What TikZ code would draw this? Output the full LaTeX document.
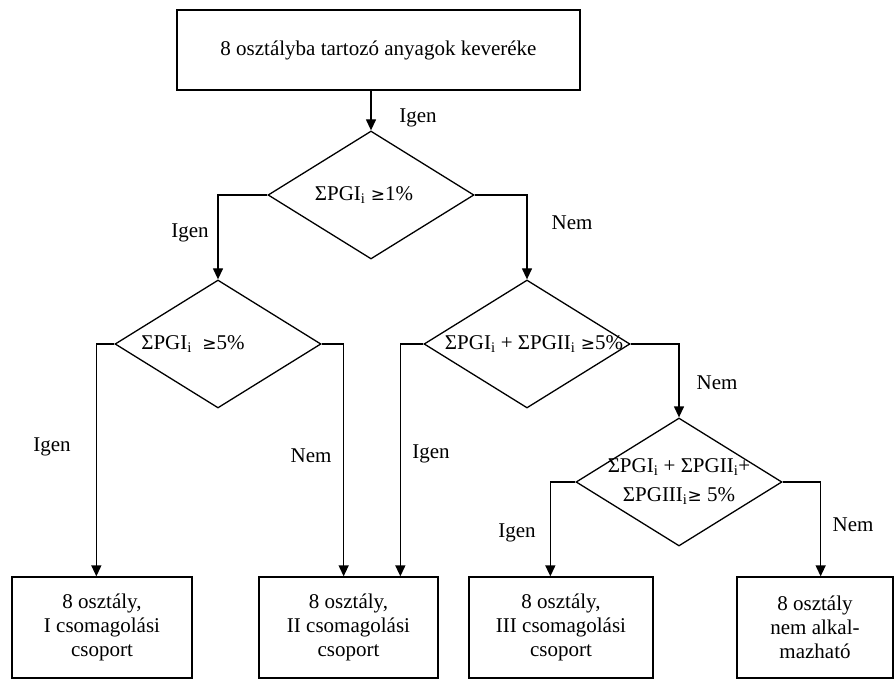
\documentclass[tikz,border=0pt]{standalone}
\usepackage{fontspec}
\setmainfont{Liberation Serif}
\newfontfamily\symfont{DejaVu Sans}
\usetikzlibrary{shapes.geometric,arrows.meta}
\newcommand{\gesign}{{\symfont\fontsize{17}{17}\selectfont ≥}}
\newcommand{\inl}[2][0pt]{\makebox[0pt]{\hspace*{#1}#2}}
\begin{document}
\begin{tikzpicture}[x=1pt,y=-1pt,
  font=\fontsize{21}{24}\selectfont,
  box/.style={draw, line width=1.3pt, align=center, inner sep=0pt},
  decision/.style={diamond, draw, line width=1.3pt, minimum width=206pt, minimum height=128pt, inner sep=0pt},
  arr/.style={line width=1.3pt, -{Triangle[length=11pt,width=10pt]}},
  lbl/.style={inner sep=0pt}]
\useasboundingbox (0,0) rectangle (895,679);
\node[box, minimum width=403pt, minimum height=80pt] (start) at (378.5,50) {8 osztályba tartozó anyagok keveréke};
\node[decision] (d1) at (371,195) {\inl[-14pt]{ΣPGI\textsubscript{i} \gesign1\%}};
\node[decision] (d2) at (218,344) {\inl[-50pt]{ΣPGI\textsubscript{i}\ \ \gesign5\%}};
\node[decision] (d3) at (527,344) {\inl[14pt]{ΣPGI\textsubscript{i} + ΣPGII\textsubscript{i} \gesign5\%}};
\node[decision] (d4) at (679,482) {\inl{\raisebox{-7pt}{\begin{tabular}{@{}c@{}}ΣPGI\textsubscript{i} + ΣPGII\textsubscript{i}+\\[5pt] ΣPGIII\textsubscript{i}\gesign\ 5\%\end{tabular}}}};
\node[box, minimum width=180pt, minimum height=101pt] (b1) at (102,627.5) {8 osztály,\\ I csomagolási\\ csoport};
\node[box, minimum width=179pt, minimum height=101pt] (b2) at (348.5,627.5) {8 osztály,\\ II csomagolási\\ csoport};
\node[box, minimum width=184pt, minimum height=101pt] (b3) at (561,627.5) {8 osztály,\\ III csomagolási\\ csoport};
\node[box, minimum width=156pt, minimum height=101pt] (b4) at (815,627.5) {8 osztály\\ nem alkal-\\ mazható};
% connectors
\draw[arr] (start.south -| d1.north) -- (d1.north);
\draw[arr] (d1.west) -| (d2.north);
\draw[arr] (d1.east) -| (d3.north);
\draw[arr] (d2.west) -- ++(-18,0) coordinate (c1) -- (c1 |- b1.north);
\draw[arr] (d2.east) -- ++(22,0) coordinate (c2) -- (c2 |- b2.north);
\draw[arr] (d3.west) -- ++(-23,0) coordinate (c3) -- (c3 |- b2.north);
\draw[arr] (d3.east) -| (d4.north);
\draw[arr] (d4.west) -- ++(-25,0) coordinate (c4) -- (c4 |- b3.north);
\draw[arr] (d4.east) -- ++(38,0) coordinate (c5) -- (c5 |- b4.north);
% labels
\node[lbl] (l1) at (418,118) {Igen};
\node[lbl] (l2) at (190,233) {Igen};
\node[lbl] (l3) at (572,223) {Nem};
\node[lbl] (l4) at (52,447) {Igen};
\node[lbl] (l5) at (311,456) {Nem};
\node[lbl] (l6) at (431,454) {Igen};
\node[lbl] (l7) at (717,383) {Nem};
\node[lbl] (l8) at (517,533) {Igen};
\node[lbl] (l9) at (853,525) {Nem};
\end{tikzpicture}
\end{document}
